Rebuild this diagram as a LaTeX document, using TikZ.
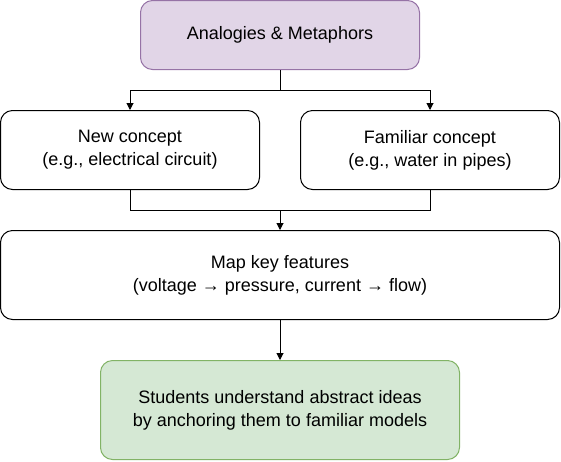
\documentclass[tikz,border=0pt]{standalone}
\usepackage{fontspec}
\setmainfont{Liberation Sans}
\usetikzlibrary{arrows.meta}
\definecolor{purpfill}{HTML}{E1D5E7}
\definecolor{purpline}{HTML}{9673A6}
\definecolor{grnfill}{HTML}{D5E8D4}
\definecolor{grnline}{HTML}{82B366}
\tikzset{
  box/.style={draw=black, fill=white, rounded corners=12pt, line width=1pt, align=center, inner sep=0pt,
    font=\fontsize{18}{23}\selectfont},
  conn/.style={draw=black, line width=1pt, -{Triangle[width=7pt,length=7pt]}},
}
\begin{document}
\begin{tikzpicture}[x=1pt,y=-1pt]
\useasboundingbox (0,0) rectangle (561,461);
\node[box, draw=purpline, fill=purpfill, minimum width=279pt, minimum height=69pt] (top) at (280,35) {Analogies \& Metaphors};
\node[box, minimum width=259pt, minimum height=79pt] (new) at (130,150) {New concept\\(e.g., electrical circuit)};
\node[box, minimum width=259pt, minimum height=79pt] (fam) at (430,150) {Familiar concept\\(e.g., water in pipes)};
\node[box, minimum width=559pt, minimum height=89pt] (map) at (280,275) {Map key features\\(voltage → pressure, current → flow)};
\node[box, draw=grnline, fill=grnfill, minimum width=359pt, minimum height=99pt] (stu) at (280,410) {Students understand abstract ideas\\by anchoring them to familiar models};
\coordinate (j1) at (280,90);
\coordinate (j2) at (280,210);
\draw[conn] (top.south) -- (j1) -| (new.north);
\draw[conn] (top.south) -- (j1) -| (fam.north);
\draw[line width=1pt] (new.south) |- (j2);
\draw[line width=1pt] (fam.south) |- (j2);
\draw[conn] (j2) -- (map.north);
\draw[conn] (map.south) -- (stu.north);
\end{tikzpicture}
\end{document}
